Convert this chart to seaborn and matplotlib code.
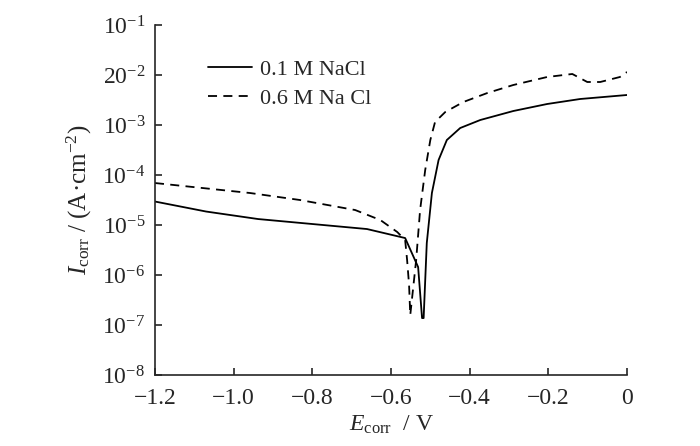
import matplotlib
matplotlib.use("Agg")
import matplotlib.pyplot as plt
import numpy as np
import pandas as pd
import seaborn as sns

# potential (V) and log10 of current density
E_01 = [-1.2, -1.07, -0.938, -0.661, -0.564, -0.531, -0.521, -0.517, -0.509, -0.496, -0.479,
        -0.458, -0.424, -0.373, -0.289, -0.203, -0.119, 0.0]
logI_01 = [-4.53, -4.73, -4.88, -5.08, -5.26, -5.84, -6.86, -6.86, -5.36, -4.36, -3.70,
           -3.30, -3.06, -2.90, -2.72, -2.58, -2.48, -2.40]

E_06 = [-1.2, -0.958, -0.831, -0.691, -0.627, -0.584, -0.564, -0.559, -0.554, -0.551,
        -0.536, -0.526, -0.513, -0.500, -0.488, -0.462, -0.416, -0.355, -0.289,
        -0.203, -0.139, -0.101, -0.068, -0.018, 0.0]
logI_06 = [-4.16, -4.36, -4.50, -4.70, -4.90, -5.14, -5.30, -5.70, -6.20, -6.80,
           -5.70, -4.70, -3.90, -3.30, -2.94, -2.74, -2.54, -2.36, -2.20,
           -2.04, -1.98, -2.14, -2.14, -2.04, -1.94]

labels = ["0.1 M NaCl", "0.6 M Na Cl"]
y_ticks = [1e-8, 1e-7, 1e-6, 1e-5, 1e-4, 1e-3, 1e-2, 1e-1]
y_ticklabels = [r"10$^{-8}$", r"10$^{-7}$", r"10$^{-6}$", r"10$^{-5}$",
                r"10$^{-4}$", r"10$^{-3}$", r"20$^{-2}$", r"10$^{-1}$"]
x_ticks = [-1.2, -1.0, -0.8, -0.6, -0.4, -0.2, 0.0]
x_ticklabels = ["\u22121.2", "\u22121.0", "\u22120.8", "\u22120.6", "\u22120.4", "\u22120.2", "0"]

sns.set_style("ticks")
plt.rcParams["font.family"] = ["Liberation Serif", "DejaVu Serif"]
plt.rcParams["mathtext.fontset"] = "custom"
plt.rcParams["mathtext.rm"] = "Liberation Serif"
plt.rcParams["mathtext.it"] = "Liberation Serif:italic"
plt.rcParams["xtick.direction"] = "in"
plt.rcParams["ytick.direction"] = "in"

df = pd.concat([
    pd.DataFrame({"E": E_01, "I": 10 ** np.array(logI_01), "sol": labels[0]}),
    pd.DataFrame({"E": E_06, "I": 10 ** np.array(logI_06), "sol": labels[1]}),
])

fig = plt.figure(figsize=(7, 4.46), dpi=100)
ax = fig.add_axes([0.2214, 0.159, 0.6743, 0.785])

sns.lineplot(data=df, x="E", y="I", style="sol", style_order=labels,
             dashes={labels[0]: "", labels[1]: (5, 3.5)},
             color="black", linewidth=1.3, sort=False, estimator=None, ax=ax)

ax.set_yscale("log")
ax.set_xlim(-1.2, 0.0)
ax.set_ylim(1e-8, 1e-1)
ax.set_yticks(y_ticks)
ax.yaxis.set_minor_locator(matplotlib.ticker.NullLocator())
ax.set_yticklabels(y_ticklabels)
ax.set_xticks(x_ticks)
ax.set_xticklabels(x_ticklabels)
ax.tick_params(labelsize=17, length=5, width=1.2)
ax.tick_params(axis="x", pad=9)
ax.tick_params(axis="y", pad=7)

sns.despine(ax=ax)
for s in ["left", "bottom"]:
    ax.spines[s].set_linewidth(1.2)

ax.set_xlabel(r"$E_{\mathrm{corr}}$  / V", fontsize=17, labelpad=4)
ax.set_ylabel(r"$I_{\mathrm{corr}}$ / (A·cm$^{-2}$)", fontsize=18, labelpad=6)

leg = ax.legend(loc="upper left", bbox_to_anchor=(0.07, 0.96), frameon=False,
                fontsize=16, handlelength=2.0, handletextpad=0.35, labelspacing=0.4)

fig.savefig("out.png", dpi=100)
